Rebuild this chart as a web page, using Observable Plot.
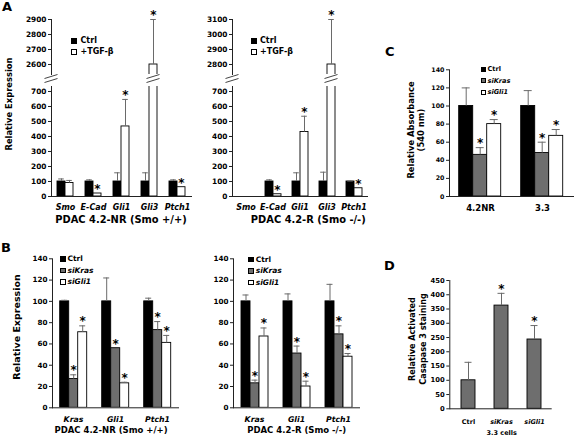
<!DOCTYPE html>
<html><head><meta charset="utf-8">
<script src="https://cdn.jsdelivr.net/npm/d3@7"></script>
<script src="https://cdn.jsdelivr.net/npm/@observablehq/plot@0.6"></script>
<style>
html,body{margin:0;padding:0;background:#fff;}
#fig{position:relative;width:574px;height:438px;overflow:hidden;background:#fff;font-family:"DejaVu Sans",Verdana,sans-serif;font-weight:bold;color:#000;}
#fig > svg{position:absolute;overflow:visible;}
.t{position:absolute;white-space:nowrap;}
.sq{position:absolute;box-sizing:border-box;border:1px solid #000;}
</style></head><body><div id="fig"></div>
<script>
// ---------------- data ----------------
// Panel A
const genesA = ["Smo", "E-Cad", "Gli1", "Gli3", "Ptch1"];
const seriesA = ["Ctrl", "+TGF-β"];
const nrCtrl = [100, 100, 100, 100, 100];
const nrCtrlErr = [117, 111, 158, 158, 111];
const nrTgf = [90, 20, 467, 2600, 62];
const nrTgfErr = [107, 20, 647, 2900, 62];
const nrTgfStar = [false, true, true, true, true];
const rCtrl = [null, 100, 100, 100, 100];
const rCtrlErr = [null, 111, 158, 162, 103];
const rTgf = [null, 15, 430, 2800, 55];
const rTgfErr = [null, 15, 535, 3100, 55];
const rTgfStar = [false, true, true, true, true];
const noStar5 = [false, false, false, false, false];
const ticksAUpperL = [2600, 2700, 2800, 2900];
const ticksAUpperR = [2800, 2900, 3000, 3100];
const ticksALower = [0, 100, 200, 300, 400, 500, 600, 700];
// Panel B
const genesB = ["Kras", "Gli1", "Ptch1"];
const seriesB = ["Ctrl", "siKras", "siGli1"];
const bnrCtrl = [100, 100, 100];
const bnrCtrlErr = [101, 122, 103];
const bnrKras = [27, 56, 73];
const bnrKrasErr = [31, 56, 81];
const bnrGli = [71, 23, 61];
const bnrGliErr = [77, 24, 68];
const brCtrl = [100, 100, 100];
const brCtrlErr = [106, 107, 116];
const brKras = [23, 51, 69];
const brKrasErr = [26, 58, 77];
const brGli = [67, 20, 48];
const brGliErr = [75, 25, 51];
const noStar3 = [false, false, false];
const allStar3 = [true, true, true];
const ticksB = [0, 20, 40, 60, 80, 100, 120, 140];
// Panel C
const cellsC = ["4.2NR", "3.3"];
const cCtrl = [100, 100];
const cCtrlErr = [120, 117];
const cKras = [46, 48];
const cKrasErr = [54, 60];
const cGli = [80, 67];
const cGliErr = [85, 74];
const ticksC = [0, 20, 40, 60, 80, 100, 120, 140];
// Panel D
const condD = ["Ctrl", "siKras", "siGli1"];
const dVal = [100, 362, 243];
const dErr = [163, 405, 292];
const dStar = [false, true, true];
const ticksD = [0, 50, 100, 150, 200, 250, 300, 350, 400, 450];
// text
const titleANR = "PDAC 4.2-NR (Smo +/+)";
const titleAR = "PDAC 4.2-R (Smo -/-)";
const titleBNR = "PDAC 4.2-NR (Smo +/+)";
const titleBR = "PDAC 4.2-R (Smo -/-)";
const titleD = "3.3 cells";
const yLabelAB = "Relative Expression";
const yLabelC = ["Relative Absorbance", "(540 nm)"];
const yLabelD = ["Relative Activated", "Casapase 3 staining"];
const italicWords = new Set(["Smo", "E-Cad", "Gli1", "Gli3", "Ptch1", "Kras", "siKras", "siGli1"]);

// ---------------- styling ----------------
const FONTS = "DejaVu Sans, Verdana, sans-serif";
const ERR = "#6a6a6a", AXC = "#222";
const FILL = {"Ctrl": "#000", "+TGF-β": "#fff", "siKras": "#6e6e6e", "siGli1": "#fff"};
const fig = document.getElementById("fig");

function rowsOf(cats, series, vals, errs, stars) {
  const out = [];
  series.forEach((s, j) => cats.forEach((c, i) => {
    if (vals[j][i] == null) return;
    out.push({cat: c, s, v: vals[j][i], e: errs[j][i], star: stars[j][i]});
  }));
  return out;
}

function italicize(svg) {
  svg.querySelectorAll('[aria-label="fx-axis tick label"] text, [aria-label="x-axis tick label"] text').forEach(t => {
    if (italicWords.has(t.textContent)) t.setAttribute("font-style", "italic");
  });
}

function grouped(o) {
  const rows = rowsOf(o.cats, o.series, o.vals, o.errs, o.stars);
  const [d0, d1] = o.yDomain;
  const vis = rows.filter(d => d.v >= d0 && d.v <= d1);
  const errRows = vis.filter(d => d.e > d.v);
  const marks = [
    // keeps every category facet present (even one without bars)
    Plot.text(o.cats, {fx: d => d, text: d => ""}),
    Plot.barY(rows, {fx: "cat", x: "s", y: "v", fill: "s", stroke: "#000", strokeWidth: 0.9, clip: true}),
    Plot.ruleX(errRows, {fx: "cat", x: "s", y1: "v", y2: "e", stroke: ERR, strokeWidth: 1}),
    Plot.tickY(errRows, {fx: "cat", x: "s", y: "e", stroke: ERR, strokeWidth: 1, insetLeft: o.cap, insetRight: o.cap}),
    Plot.text(vis.filter(d => d.star), {fx: "cat", x: "s", y: "e", text: d => "*", fontSize: o.star, lineAnchor: "bottom", dy: -0.5}),
    Plot.axisY({ticks: o.yTicks, tickFormat: "d", tickSize: 3, tickPadding: 2, label: null, fontSize: o.tickFont, stroke: AXC}),
    Plot.frame({anchor: "left", facet: "super", stroke: AXC})
  ];
  if (o.baseline) marks.push(Plot.frame({anchor: "bottom", facet: "super", stroke: AXC}));
  if (o.showFx) marks.push(Plot.axisFx({anchor: "bottom", tickSize: 0, tickPadding: o.fxPad, label: null, fontSize: o.catFont}));
  const fxOpts = {domain: o.cats, paddingInner: 0, paddingOuter: o.fxOuter, align: o.fxAlign, label: null};
  if (!o.showFx) fxOpts.axis = null;
  const svg = Plot.plot({
    width: o.width, height: o.height,
    marginLeft: o.mL, marginRight: o.mR, marginTop: o.mT, marginBottom: o.mB,
    style: {fontFamily: FONTS, fontWeight: "bold", fontSize: o.tickFont + "px", background: "transparent", overflow: "visible"},
    fx: fxOpts,
    x: {domain: o.series, paddingInner: 0, paddingOuter: o.xOuter, axis: null},
    y: {domain: o.yDomain},
    color: {domain: o.series, range: o.series.map(s => FILL[s])},
    marks
  });
  svg.style.left = o.left + "px";
  svg.style.top = o.top + "px";
  italicize(svg);
  fig.appendChild(svg);
  return svg;
}

function txt(str, cx, cy, size, opts = {}) {
  const d = document.createElement("div");
  d.className = "t";
  d.textContent = str;
  d.style.fontSize = size + "px";
  d.style.lineHeight = size + "px";
  if (opts.italic) d.style.fontStyle = "italic";
  d.style.left = cx + "px";
  if (!opts.left) d.style.transform = "translateX(-50%)";
  d.style.top = (cy - 0.48 * size) + "px";
  fig.appendChild(d);
  return d;
}
function vtxt(lines, cx, cy, size, lh) {
  const d = document.createElement("div");
  d.className = "t";
  d.style.fontSize = size + "px";
  d.style.lineHeight = lh + "px";
  d.style.textAlign = "center";
  d.style.left = cx + "px";
  d.style.top = cy + "px";
  d.style.transform = "translate(-50%,-50%) rotate(-90deg)";
  lines.forEach((l, i) => { if (i) d.appendChild(document.createElement("br")); d.appendChild(document.createTextNode(l)); });
  fig.appendChild(d);
}
function legend(labels, x, ys, size, textX, fs) {
  labels.forEach((lab, i) => {
    const s = document.createElement("div");
    s.className = "sq";
    s.style.left = x + "px"; s.style.top = ys[i] + "px";
    s.style.width = size + "px"; s.style.height = size + "px";
    s.style.background = FILL[lab];
    fig.appendChild(s);
    txt(lab, textX, ys[i] + size / 2, fs, {left: true, italic: italicWords.has(lab)});
  });
}
function letter(ch, x, y) {
  const d = document.createElement("div");
  d.className = "t"; d.textContent = ch;
  d.style.fontSize = "13px"; d.style.lineHeight = "13px";
  d.style.left = x + "px"; d.style.top = y + "px";
  fig.appendChild(d);
}

// ---------------- Panel A ----------------
const aCommon = {cats: genesA, series: seriesA, xOuter: 0.675, cap: 1.2, star: 12, tickFont: 7.4, catFont: 8, fxPad: 8};
const aL = {...aCommon, left: 0, width: 200, mL: 51, mR: 9, fxOuter: 0, fxAlign: 0.5,
  vals: [nrCtrl, nrTgf], errs: [nrCtrlErr, nrTgfErr], stars: [noStar5, nrTgfStar]};
const aR = {...aCommon, left: 190, width: 200, mL: 42, mR: 2, fxOuter: 0.306, fxAlign: 0,
  vals: [rCtrl, rTgf], errs: [rCtrlErr, rTgfErr], stars: [noStar5, rTgfStar]};
grouped({...aL, top: 0, height: 76, mT: 19, mB: 2, yDomain: [2533.33, 2900], yTicks: ticksAUpperL, showFx: false, baseline: false});
const aLlow = grouped({...aL, top: 84, height: 140, mT: 2, mB: 28, yDomain: [0, 733.33], yTicks: ticksALower, showFx: true, baseline: true});
grouped({...aR, top: 0, height: 76, mT: 19, mB: 2, yDomain: [2733.33, 3100], yTicks: ticksAUpperR, showFx: false, baseline: false});
const aRlow = grouped({...aR, top: 84, height: 140, mT: 2, mB: 28, yDomain: [0, 733.33], yTicks: ticksALower, showFx: true, baseline: true});

// ---------------- Panel B ----------------
const bCommon = {cats: genesB, series: seriesB, top: 240, height: 192, mT: 18.3, mB: 24.7, yDomain: [0, 140], yTicks: ticksB,
  cap: 1.5, star: 12, tickFont: 7.2, catFont: 7.8, fxPad: 8.6, showFx: true, baseline: true};
grouped({...bCommon, left: 0, width: 200, mL: 43.3, mR: 8.3, fxOuter: 0.262, fxAlign: 0.37, xOuter: 0.605,
  vals: [bnrCtrl, bnrKras, bnrGli], errs: [bnrCtrlErr, bnrKrasErr, bnrGliErr], stars: [noStar3, allStar3, allStar3]});
grouped({...bCommon, left: 190, width: 200, mL: 42, mR: 30, fxOuter: 0, fxAlign: 0.5, xOuter: 0.635,
  vals: [brCtrl, brKras, brGli], errs: [brCtrlErr, brKrasErr, brGliErr], stars: [noStar3, allStar3, allStar3]});

// ---------------- Panel C ----------------
grouped({cats: cellsC, series: seriesB, left: 380, top: 50, width: 194, height: 170, mL: 68.3, mR: 0, mT: 19.3, mB: 24,
  yDomain: [0, 140], yTicks: ticksC, fxOuter: 0, fxAlign: 0.5, xOuter: 0.70, cap: 3, star: 12, tickFont: 6.3, catFont: 8.5, fxPad: 8.3,
  showFx: true, baseline: true,
  vals: [cCtrl, cKras, cGli], errs: [cCtrlErr, cKrasErr, cGliErr], stars: [[false, false], [true, true], [true, true]]});

// ---------------- Panel D ----------------
const rowsD = condD.map((c, i) => ({c, v: dVal[i], e: dErr[i], star: dStar[i]}));
const dSvg = Plot.plot({
  width: 194, height: 180, marginLeft: 69.3, marginRight: 22.3, marginTop: 30, marginBottom: 21.7,
  style: {fontFamily: FONTS, fontWeight: "bold", fontSize: "6.8px", background: "transparent", overflow: "visible"},
  x: {domain: condD, paddingInner: 0.58, paddingOuter: 0.33},
  y: {domain: [0, 450]},
  marks: [
    Plot.barY(rowsD, {x: "c", y: "v", fill: "#6e6e6e", stroke: "#000", strokeWidth: 0.9}),
    Plot.ruleX(rowsD, {x: "c", y1: "v", y2: "e", stroke: ERR, strokeWidth: 1}),
    Plot.tickY(rowsD, {x: "c", y: "e", stroke: ERR, strokeWidth: 1, insetLeft: 3.5, insetRight: 3.5}),
    Plot.text(rowsD.filter(d => d.star), {x: "c", y: "e", text: d => "*", fontSize: 12, lineAnchor: "bottom", dy: -0.5}),
    Plot.axisY({ticks: ticksD, tickFormat: "d", tickSize: 3, tickPadding: 2, label: null, fontSize: 6.8, stroke: AXC}),
    Plot.axisX({tickSize: 0, tickPadding: 11, label: null, fontSize: 6.5}),
    Plot.frame({anchor: "left", stroke: AXC}),
    Plot.ruleY([0], {stroke: AXC})
  ]
});
dSvg.style.left = "380px"; dSvg.style.top = "250px";
italicize(dSvg);
fig.appendChild(dSvg);

// ---------------- texts ----------------
letter("A", 2, 0.2); letter("B", 1, 240.5); letter("C", 385, 45.2); letter("D", 384, 258.5);
txt(titleANR, 121, 219.3, 9.9);
txt(titleAR, 308.3, 219.3, 9.9);
txt(titleBNR, 111, 430, 8.5);
txt(titleBR, 296.7, 430, 8.5);
txt(titleD, 501.7, 433, 6.5);
vtxt([yLabelAB], 9, 103.5, 8.4, 10);
vtxt([yLabelAB], 16, 326.7, 9.5, 11);
vtxt(yLabelC, 416.2, 129.7, 8.4, 9.5);
vtxt(yLabelD, 417.5, 339, 8.1, 11);
legend(seriesA, 71, [37.5, 49], 6, 80.5, 8);
legend(seriesA, 250.5, [37.5, 49], 6, 260, 8);
legend(seriesB, 60, [256, 267.5, 279], 5.7, 67.5, 7.5);
legend(seriesB, 248.3, [256.5, 268, 279.5], 5.7, 255.7, 7.5);
legend(seriesB, 481, [66.8, 78.2, 89.6], 5.2, 487.5, 6.6);

// ---------------- axis breaks (panel A) ----------------
const NS = "http://www.w3.org/2000/svg";
const ov = document.createElementNS(NS, "svg");
ov.setAttribute("width", 574); ov.setAttribute("height", 438);
ov.style.left = "0px"; ov.style.top = "0px"; ov.style.pointerEvents = "none";
function brk(cx) {
  [[78.5, 74.5], [82.5, 78.5]].forEach(([y1, y2]) => {
    const l = document.createElementNS(NS, "line");
    l.setAttribute("x1", cx - 6.5); l.setAttribute("y1", y1);
    l.setAttribute("x2", cx + 6.5); l.setAttribute("y2", y2);
    l.setAttribute("stroke", "#444"); l.setAttribute("stroke-width", 1);
    ov.appendChild(l);
  });
}
// centre of the tallest (broken) bar
function tallestBarCenter(svg) {
  const figBox = fig.getBoundingClientRect();
  let best = null, bestH = -1;
  svg.querySelectorAll('g[aria-label="bar"] rect').forEach(r => {
    const b = r.getBoundingClientRect();
    if (b.height > bestH) { bestH = b.height; best = b; }
  });
  return best ? best.left + best.width / 2 - figBox.left : null;
}
brk(0 + aL.mL);
brk(190 + aR.mL);
[aLlow, aRlow].forEach(s => { const c = tallestBarCenter(s); if (c != null) brk(c); });
fig.appendChild(ov);
</script></body></html>
